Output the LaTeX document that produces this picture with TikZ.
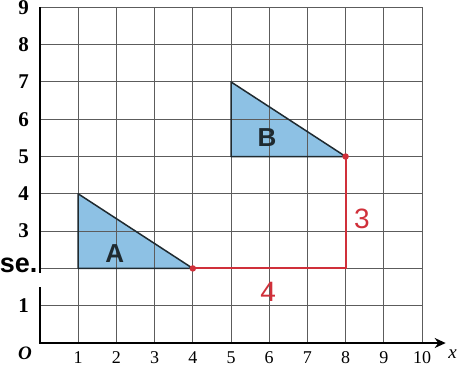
\documentclass[tikz,border=0pt]{standalone}
\usepackage{fontspec}
\setmainfont{Liberation Serif}
\setsansfont{Liberation Sans}
\usetikzlibrary{arrows.meta}
\definecolor{gridgray}{HTML}{5C5C5C}
\definecolor{shapeblue}{HTML}{8DC1E4}
\definecolor{shapeedge}{HTML}{1F2A30}
\definecolor{shiftred}{HTML}{D0303A}

\begin{document}
\begin{tikzpicture}[x=38.2pt, y=37.3pt,
  gridline/.style={gridgray, line width=0.9pt},
  tri/.style={draw=shapeedge, line width=1.5pt, line join=round},
  shiftline/.style={draw=shiftred, line width=2pt},
  shiftdot/.style={circle, fill=shiftred, inner sep=0pt, minimum size=6.5pt},
  ylab/.style={anchor=east, font=\bfseries\fontsize{21}{24}\selectfont},
  xlab/.style={font=\fontsize{18}{20}\selectfont},
  trilab/.style={font=\sffamily\bfseries\fontsize{26}{30}\selectfont, text=shapeedge},
  steplab/.style={font=\sffamily\fontsize{28}{32}\selectfont, text=shiftred}]
\useasboundingbox (-1.047,-0.670) rectangle (10.916,9.196);

% shapes A and B
\coordinate (a1) at (1,2); \coordinate (a2) at (1,4); \coordinate (a3) at (4,2);
\coordinate (b1) at (5,5); \coordinate (b2) at (5,7); \coordinate (b3) at (8,5);
\coordinate (corner) at (8,2);
\fill[shapeblue] (a1) -- (a2) -- (a3) -- cycle;
\fill[shapeblue] (b1) -- (b2) -- (b3) -- cycle;

% grid and axes
\foreach \i in {1,...,10}
  \draw[gridline] (\i,0) -- (\i,9);
\foreach \j in {1,...,9}
  \draw[gridline] (0,\j) -- (10,\j);
\draw[line width=2.4pt] (0,0) -- (0,1.5);
\draw[line width=2.4pt] (0,1.88) -- (0,9);
\draw[line width=2pt, -{Stealth[length=11pt, width=10pt]}] (-0.03,0) -- (10.62,0);

\draw[tri] (a1) -- (a2) -- (a3) -- cycle;
\draw[tri] (b1) -- (b2) -- (b3) -- cycle;
\node[trilab] (labA) at (1.96,2.41) {A};
\node[trilab] (labB) at (5.94,5.50) {B};

% translation 4 right, 3 up
\draw[shiftline] (a3) -- (corner) -- (b3);
\node[shiftdot] (from) at (a3) {};
\node[shiftdot] (to) at (b3) {};
\node[steplab] (four) at (5.97,1.37) {4};
\node[steplab] (three) at (8.43,3.32) {3};

% axis labels
\foreach \n in {1,3,4,5,6,7,8,9}
  \node[ylab] (y\n) at (-0.2,\n) {\n};
\foreach \n in {1,...,10}
  \node[xlab] (x\n) at (\n,-0.38) {\n};
\node[font=\bfseries\itshape\fontsize{19}{22}\selectfont] (orig) at (-0.39,-0.27) {O};
\node[font=\itshape\fontsize{19}{22}\selectfont] (xname) at (10.8,-0.3) {x};

\node[anchor=east, inner sep=0pt, font=\sffamily\bfseries\fontsize{27}{30}\selectfont] (cut) at (-0.06,2.08) {se.};
\end{tikzpicture}
\end{document}
